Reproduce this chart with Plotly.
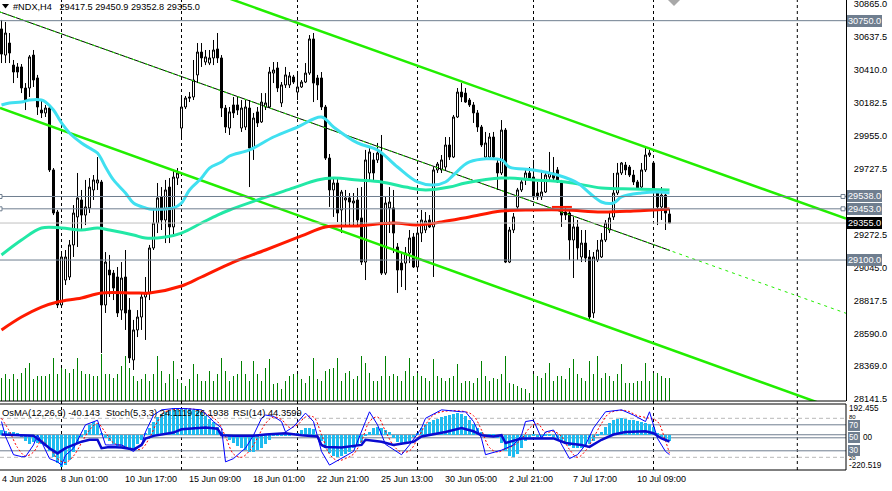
import plotly.graph_objects as go

# ---------------- data ----------------
bar_index = list(range(168))

open_ = [30693,30513,30596,30444,30431,30431,30286,30286,30513,30355,
         30134,30114,30148,29721,29431,28790,28962,28983,29204,29397,
         29514,29410,29459,29583,29631,29638,28790,29031,29010,28983,
         28755,28983,28755,28411,28618,28707,28845,28873,29183,29355,
         29535,29376,29603,29328,29665,30010,30155,30224,30224,30376,
         30534,30465,30458,30493,30555,30493,30148,30010,30169,30169,
         30010,30017,30148,29872,30121,30052,30155,30155,30389,30424,
         30183,30307,30307,30362,30258,30293,30327,30389,30624,30355,
         30355,30155,29803,29583,29631,29445,29514,29528,29493,29514,
         29390,29086,29700,29790,29790,29838,29010,29459,29459,29190,
         29079,29079,29148,29259,29052,29286,29307,29376,29328,29721,
         29721,29741,29893,29810,30086,30258,30251,30203,30169,30114,
         30017,29810,29810,29948,29769,29700,29996,29086,29307,29466,
         29583,29652,29700,29672,29562,29535,29569,29672,29700,29721,
         29638,29431,29424,29238,29328,29121,29217,29121,28735,29100,
         29121,29238,29307,29397,29562,29700,29755,29741,29686,29638,
         29603,29721,29824,29769,29569,29466,29548,29417.5]
high = [30755,30741,30665,30479,30458,30451,30320,30513,30548,30376,
        30203,30169,30169,29734,29445,29148,29169,29238,29479,29700,
        29583,29652,29665,29686,29810,29652,29155,29135,29031,29052,
        29086,29169,28838,28687,28755,28873,28983,29204,29459,29631,
        29603,29652,29665,29721,29734,30217,30231,30258,30479,30596,
        30596,30548,30548,30617,30665,30513,30169,30155,30224,30224,
        30203,30203,30203,30114,30155,30251,30251,30431,30465,30465,
        30327,30431,30396,30376,30396,30341,30458,30651,30665,30376,
        30396,30169,29831,29672,29665,29583,29583,29562,29562,29597,
        29603,29859,29872,29838,29907,29962,29535,29603,29583,29217,
        29148,29190,29307,29286,29307,29445,29431,29410,29741,29776,
        29824,29948,29948,30100,30286,30320,30286,30217,30189,30134,
        30031,29983,29976,29983,29790,30065,30010,29328,29424,29597,
        29665,29721,29741,29790,29638,29721,29707,29845,29810,29741,
        29652,29459,29445,29397,29376,29307,29307,29169,29155,29238,
        29286,29376,29431,29700,29769,29776,29776,29755,29721,29652,
        29769,29872,29859,29776,29583,29603,29569,29450.9]
low = [30458,30458,30458,30320,30355,30251,30134,30224,30293,30100,
       30079,30086,29707,29410,28769,28776,28928,28962,29121,29190,
       29307,29341,29424,29514,29583,28459,28735,28845,28824,28707,
       28687,28618,28390,28342,28569,28618,28549,28824,29169,29286,
       29307,29217,29217,29259,29617,29941,30141,30189,30203,30320,
       30431,30444,30444,30444,30458,30086,29976,29962,30079,30100,
       29983,29996,29603,29790,30017,30045,30134,30148,30320,30258,
       30155,30286,30286,30314,30203,30286,30320,30376,30189,30203,
       30134,29790,29466,29397,29362,29286,29328,29341,29341,29328,
       29066,28962,29652,29638,29769,28997,28997,29286,29148,28873,
       28914,28893,29079,29045,29031,29224,29286,29321,28983,29700,
       29700,29721,29790,29803,30079,30189,30183,30155,30045,29983,
       29879,29790,29790,29790,29583,29686,29079,29079,29286,29445,
       29569,29617,29652,29514,29514,29514,29562,29638,29638,29631,
       29328,29376,29100,28976,29100,29086,29086,28693,28700,29086,
       29114,29224,29286,29376,29548,29686,29686,29672,29617,29583,
       29597,29707,29810,29397,29341,29376,29307,29352.8]
close = [30520,30665,30527,30396,30396,30286,30203,30500,30341,30155,
         30114,30148,29721,29424,28790,29121,29121,29204,29424,29528,
         29410,29466,29603,29652,29652,28790,29086,28997,28907,28735,
         28976,28735,28425,28618,28707,28845,28873,29183,29355,29528,
         29376,29583,29328,29672,29700,30155,30217,30217,30341,30534,
         30493,30500,30493,30548,30493,30148,30017,30121,30114,30134,
         30148,30155,29872,30079,30045,30189,30183,30396,30410,30286,
         30307,30376,30369,30327,30293,30327,30389,30624,30320,30307,
         30155,29803,29583,29631,29424,29569,29528,29500,29507,29376,
         29086,29790,29845,29700,29838,29010,29493,29500,29286,29031,
         29031,29148,29252,29052,29286,29376,29369,29328,29721,29762,
         29790,29893,29810,30086,30258,30224,30189,30169,30114,30017,
         29893,29907,29948,29810,29700,29996,29086,29307,29397,29583,
         29638,29700,29665,29535,29535,29569,29686,29700,29665,29638,
         29410,29410,29238,29328,29183,29217,29114,28707,29121,29169,
         29238,29355,29390,29562,29700,29769,29721,29686,29638,29597,
         29721,29824,29838,29569,29466,29548,29424,29355.0]
volume = [2330,2670,2170,2670,2170,2830,3330,3830,2170,2500,
          2500,2500,2670,4330,2670,3330,3170,2830,3170,4330,
          3000,2670,2670,2500,2500,4670,2670,2670,2330,2670,
          3500,4500,3330,2500,2000,2170,2670,2000,2670,4500,
          3000,1830,2670,4000,2170,1830,1500,2170,3670,2670,
          2000,2000,3000,2000,2670,4330,3000,2000,2500,2670,
          4000,2670,2000,4000,2670,2000,3330,4170,1670,1830,
          1170,2000,2500,2670,2670,2170,1830,2500,4330,2170,
          2000,3000,3170,3330,4330,2000,2830,3000,2170,2500,
          4500,3830,2830,2000,2000,2500,4500,2500,2670,2500,
          2000,3000,4330,2500,2830,2500,2330,2000,4170,2500,
          2330,2000,2330,2500,3670,1830,2000,2000,1830,2330,
          4000,2500,2000,2330,2170,2670,4500,1830,1670,1500,
          1330,1170,830,2670,2500,2330,2830,3830,2000,2500,
          2500,2170,3330,4170,2670,2330,2000,4000,2670,4500,
          2330,2830,2500,2000,2670,3670,1830,1830,1830,2000,
          2000,3830,2000,2830,2830,2500,2330,2330]
osma = [30,25,20,15,8,-15,-40,-55,-45,-50,
        -60,-70,-100,-140,-175,-200,-190,-160,-110,-60,
        -15,30,60,82,70,10,-20,-40,-60,-70,
        -80,-85,-90,-80,-60,-30,10,40,80,110,
        130,145,155,165,165,170,165,160,155,150,
        140,120,100,80,50,20,-10,-30,-50,-70,
        -85,-95,-105,-105,-95,-80,-55,-30,-10,-5,
        -8,-5,-5,5,10,30,40,45,35,0,
        -40,-80,-115,-135,-137,-130,-120,-105,-85,-70,
        -50,-10,20,40,50,45,30,15,-20,-45,
        -60,-60,-40,-15,10,40,65,80,90,100,
        110,120,125,130,134,130,115,95,70,40,
        15,0,-5,-10,-20,-50,-100,-130,-137,-120,
        -80,-40,-20,-10,-15,-15,-10,-10,-15,-25,
        -40,-55,-70,-85,-85,-80,-70,-60,-40,-10,
        20,50,75,90,100,103,100,95,90,85,
        80,75,70,50,10,-15,-30,-40.143]

rsi_bar = [0,4,8,10,12,14,15,16,18,20,22,24,25,27,30,33,35,36,38,40,
           43,45,48,51,54,55,58,63,66,71,75,79,80,81,85,90,91,95,98,103,
           105,108,111,115,118,120,123,125,126,130,133,138,141,145,147,150,
           153,156,161,163,165,167]
rsi_val = [55,54,53,44,34,26,30,34,39,44,47,47,34,36,35,32,39,49,53,55,
           58,63,65,66,64,54,53,53,55,57,54,52,39,36,35,39,47,44,39,44,
           52,55,59,65,60,54,52,54,42,49,49,49,42,39,36,47,
           55,59,60,57,49,44.3599]

stoch_bar = [0,1,3,5,6,8,9,10,12,14,15,16,18,20,21,24,25,26,27,30,
             33,35,36,38,40,43,46,50,53,55,56,58,60,61,63,65,66,68,70,71,
             73,75,76,78,80,82,85,88,91,92,94,95,96,97,100,102,105,106,110,115,
             116,118,120,121,125,128,130,131,133,135,136,138,140,142,144,146,148,151,155,158,
             161,162,164,166,167]
stoch_val = [75,52,24,21,21,39,54,44,18,13,8,23,34,59,70,77,59,39,39,39,
             29,39,59,85,93,95,95,93,75,65,13,18,29,34,54,80,85,83,75,59,
             67,80,88,75,29,8,18,29,75,90,70,55,40,36,24,39,65,80,93,90,
             90,75,49,24,31,39,54,75,77,49,59,62,39,18,24,39,65,90,93,85,
             75,90,49,29,24.1119]

signal_bar = [0,2,4,6,8,10,12,14,16,18,20,22,24,26,28,30,33,35,37,39,
              41,44,48,51,54,56,58,60,62,64,66,68,70,72,74,76,78,80,82,84,
              86,88,90,92,94,96,98,100,102,104,106,108,111,116,118,120,122,124,126,128,
              130,132,134,136,138,140,142,144,146,148,150,152,156,159,162,164,166,167]
signal_val = [80,60,35,22,28,45,35,18,12,22,42,62,72,58,42,38,33,33,50,75,
              90,94,94,88,75,52,25,20,30,50,72,82,78,66,70,82,82,55,25,15,
              18,25,45,75,82,60,38,28,30,48,70,85,91,90,84,62,35,28,33,38,
              48,65,72,58,60,52,32,20,30,50,72,88,92,84,80,75,45,26.1938]

ma_fast_bar = [0,2,5,7,10,11,13,15,17,20,22,24,26,28,31,33,36,37,41,43,
               45,47,50,52,55,57,62,68,74,80,83,89,94,99,104,108,111,113,117,125,
               127,133,139,144,147,150,153,155,160,164,167]
ma_fast_val = [30169,30183,30189,30203,30203,30189,30134,30045,29976,29907,
               29872,29838,29741,29652,29562,29493,29459,29452,29452,29459,
               29493,29583,29665,29734,29776,29817,29859,29948,30017,30086,
               30017,29907,29859,29741,29638,29617,29638,29686,29776,29790,
               29741,29721,29686,29631,29562,29500,29493,29535,29562,29569,29562]
ma_mid_bar = [0,5,10,15,20,24,27,33,36,41,45,50,54,57,64,73,79,83,89,95,
              101,106,112,116,125,133,141,150,158,167]
ma_mid_val = [29135,29238,29321,29321,29307,29321,29307,29273,29252,29259,
              29286,29355,29410,29445,29514,29597,29652,29665,29652,29638,
              29603,29583,29603,29631,29665,29652,29638,29597,29590,29583]
ma_slow_bar = [0,5,10,14,20,25,33,37,45,50,58,66,75,81,89,98,104,110,117,125,
               133,141,150,158,167]
ma_slow_val = [28618,28707,28776,28811,28838,28873,28873,28873,28921,28983,
               29086,29169,29266,29328,29335,29355,29341,29362,29397,29438,
               29445,29445,29431,29438,29452]

# drawn objects (bar index, price)
channel_upper_bar, channel_upper_price = [49.625, 211.125], [30975, 29385]
channel_lower_bar, channel_lower_price = [-0.375, 211.125], [30148, 28048]
trend_mid_bar, trend_mid_price = [-0.375, 167.1], [30810, 29166]
trend_mid_ext_bar, trend_mid_ext_price = [-0.375, 211.125], [30810, 28733]
red_segment_bar, red_segment_price = [137.6, 142.6], [29466, 29466]

h_levels = [30750.0, 29538.0, 29453.0, 29100.0]
bid_price = 29355.0
separator_bars = [15, 45, 74, 104, 133, 163, 198.95]

date_bars = [15, 31, 47, 63, 79, 95, 111, 127, 143, 159]
date_text = ["8 Jun 01:00", "10 Jun 17:00", "15 Jun 09:00", "18 Jun 01:00",
             "22 Jun 21:00", "25 Jun 13:00", "30 Jun 05:00", "2 Jul 21:00",
             "7 Jul 17:00", "10 Jul 09:00"]
price_ticks = [30865.0, 30637.5, 30410.0, 30182.5, 29955.0, 29727.5,
               29272.5, 29045.0, 28817.5, 28590.0, 28369.0, 28141.5]

osma_range = [-220.519, 192.455]
stoch_levels_dash = [80, 20]
stoch_levels_solid = [70, 50, 30]

# ---------------- layout constants ----------------
FONT = "Liberation Sans, Arial, sans-serif"
SLATE = "#6f7e8f"
PW, PH = 846.0, 470.0      # plot area in px
MAIN_BOTTOM, IND_TOP = 401.0, 404.0


def pxx(p):
    return p / PW


def pxy(p):
    return 1 - p / PH


fig = go.Figure()

# volumes (base axis of main panel)
fig.add_trace(go.Bar(x=bar_index, y=volume, xaxis="x", yaxis="y",
                     marker=dict(color="#008000", line=dict(width=0)),
                     width=0.25, hoverinfo="skip"))

# channel / trend lines
fig.add_trace(go.Scatter(x=channel_upper_bar, y=channel_upper_price, yaxis="y2", mode="lines",
                         line=dict(color="#22ee00", width=2.5), hoverinfo="skip"))
fig.add_trace(go.Scatter(x=channel_lower_bar, y=channel_lower_price, yaxis="y2", mode="lines",
                         line=dict(color="#22ee00", width=2.5), hoverinfo="skip"))
fig.add_trace(go.Scatter(x=trend_mid_bar, y=trend_mid_price, yaxis="y2", mode="lines",
                         line=dict(color="black", width=1), hoverinfo="skip"))
fig.add_trace(go.Scatter(x=trend_mid_ext_bar, y=trend_mid_ext_price, yaxis="y2", mode="lines",
                         line=dict(color="#22ee00", width=1, dash="3px,4px"), hoverinfo="skip"))

# candles
fig.add_trace(go.Candlestick(
    x=bar_index, open=open_, high=high, low=low, close=close, yaxis="y2",
    increasing=dict(line=dict(color="black", width=1), fillcolor="white"),
    decreasing=dict(line=dict(color="black", width=1), fillcolor="black"),
    whiskerwidth=0, hoverinfo="skip"))

# moving averages
fig.add_trace(go.Scatter(x=ma_slow_bar, y=ma_slow_val, yaxis="y2", mode="lines",
                         line=dict(color="#ff1a00", width=3, shape="spline"), hoverinfo="skip"))
fig.add_trace(go.Scatter(x=ma_mid_bar, y=ma_mid_val, yaxis="y2", mode="lines",
                         line=dict(color="#22e8a6", width=3, shape="spline"), hoverinfo="skip"))
fig.add_trace(go.Scatter(x=ma_fast_bar, y=ma_fast_val, yaxis="y2", mode="lines",
                         line=dict(color="#40e0f0", width=3, shape="spline"), hoverinfo="skip"))
fig.add_trace(go.Scatter(x=red_segment_bar, y=red_segment_price, yaxis="y2", mode="lines",
                         line=dict(color="#ff1a00", width=2), hoverinfo="skip"))

# indicator window
fig.add_trace(go.Bar(x=bar_index, y=osma, xaxis="x", yaxis="y3",
                     marker=dict(color="#1ebcf0", line=dict(width=0)),
                     width=0.6, hoverinfo="skip"))
fig.add_trace(go.Scatter(x=signal_bar, y=signal_val, yaxis="y4", mode="lines",
                         line=dict(color="#ff0000", width=1, dash="2px,2px", shape="spline"),
                         hoverinfo="skip"))
fig.add_trace(go.Scatter(x=stoch_bar, y=stoch_val, yaxis="y4", mode="lines",
                         line=dict(color="#0000ff", width=1), hoverinfo="skip"))
fig.add_trace(go.Scatter(x=rsi_bar, y=rsi_val, yaxis="y4", mode="lines",
                         line=dict(color="#0a0ad0", width=2.5), hoverinfo="skip"))

# ---------------- shapes ----------------
shapes = []
for k in separator_bars:
    shapes.append(dict(type="line", xref="x", yref="paper", x0=k, x1=k, y0=0, y1=1,
                       line=dict(color="black", width=1, dash="3px,3px"), layer="below"))
for v in h_levels:
    shapes.append(dict(type="line", xref="paper", x0=0, x1=1, yref="y2", y0=v, y1=v,
                       line=dict(color=SLATE, width=1)))
shapes.append(dict(type="line", xref="paper", x0=0, x1=1, yref="y2", y0=bid_price, y1=bid_price,
                   line=dict(color="#c0c0c0", width=1)))
for v in (29538.0, 29453.0):
    for xa, a, b in ((0, -2, 2), (1, -5, -1)):
        shapes.append(dict(type="rect", xref="paper", xsizemode="pixel", xanchor=xa, x0=a, x1=b,
                           yref="y2", ysizemode="pixel", yanchor=v, y0=-2, y1=2,
                           line=dict(color=SLATE, width=1), fillcolor="white"))
for v in stoch_levels_dash:
    shapes.append(dict(type="line", xref="paper", x0=0, x1=1, yref="y4", y0=v, y1=v,
                       line=dict(color="#b8b8b8", width=1, dash="4px,3px"), layer="below"))
for v in stoch_levels_solid:
    shapes.append(dict(type="line", xref="paper", x0=0, x1=1, yref="y4", y0=v, y1=v,
                       line=dict(color=SLATE, width=1), layer="below"))
shapes.append(dict(type="line", xref="paper", x0=0, x1=1, yref="y3", y0=0, y1=0,
                   line=dict(color=SLATE, width=1), layer="below"))
# panel frames
for y in (MAIN_BOTTOM, IND_TOP, PH):
    shapes.append(dict(type="line", xref="paper", yref="paper", x0=0, x1=1,
                       y0=pxy(y), y1=pxy(y), line=dict(color="black", width=1)))
shapes.append(dict(type="line", xref="paper", yref="paper", x0=1, x1=1,
                   y0=pxy(PH), y1=pxy(IND_TOP), line=dict(color="black", width=1)))
# small markers at top
shapes.append(dict(type="path", xref="paper", yref="paper",
                   path=f"M {pxx(2)},{pxy(4)} L {pxx(9)},{pxy(4)} L {pxx(5.5)},{pxy(8.5)} Z",
                   fillcolor="black", line=dict(width=0)))
shapes.append(dict(type="path", xref="paper", yref="paper",
                   path=f"M {pxx(668)},{pxy(0)} L {pxx(680)},{pxy(0)} L {pxx(674)},{pxy(6)} Z",
                   fillcolor="#a8a8a8", line=dict(width=0)))

# ---------------- annotations ----------------
ann = []
f_axis = dict(family=FONT, size=9.2, color="black")
for v, txt in zip(h_levels, ["30750.0", "29538.0", "29453.0", "29100.0"]):
    ann.append(dict(xref="paper", x=1, xanchor="left", xshift=1, yref="y2", y=v, yanchor="middle",
                    text=txt, showarrow=False, bgcolor=SLATE, borderpad=0, borderwidth=1,
                    bordercolor=SLATE, font=dict(family=FONT, size=9.2, color="white")))
ann.append(dict(xref="paper", x=1, xanchor="left", xshift=1, yref="y2", y=bid_price, yanchor="middle",
                text="29355.0", showarrow=False, bgcolor="black", borderpad=0, borderwidth=1,
                bordercolor="black", font=dict(family=FONT, size=9.2, color="white")))


# indicator window scale labels
def side_label(ypx, txt, box=False, size=9.2, xshift=2):
    d = dict(xref="paper", x=1, xanchor="left", xshift=xshift, yref="paper", y=pxy(ypx),
             yanchor="middle", text=txt, showarrow=False, borderpad=0,
             font=dict(family=FONT, size=size, color="white" if box else "black"))
    if box:
        d.update(bgcolor=SLATE, borderwidth=1, bordercolor=SLATE)
    return d


ann.append(side_label(408.6, "192.455", size=8.2))
ann.append(side_label(417.0, "80", size=6))
ann.append(side_label(425.0, "70", True, size=8.2))
ann.append(side_label(437.3, "50", True, size=8.2))
ann.append(side_label(437.3, "00", size=8.2, xshift=16))
ann.append(side_label(450.4, "30", True, size=8.2))
ann.append(side_label(458.2, "20", size=6))
ann.append(side_label(465.0, "-220.519", size=8.2))

# header & indicator captions
ann.append(dict(xref="paper", yref="paper", x=pxx(11), y=pxy(7), xanchor="left", yanchor="middle",
                text="#NDX,H4&nbsp;&nbsp; 29417.5 29450.9 29352.8 29355.0", showarrow=False,
                font=dict(family=FONT, size=9.2, color="black")))
for xp, txt in ((0, "OsMA(12,26,9) -40.143"), (104, "Stoch(5,3,3) 24.1119 26.1938"),
                (231, "RSI(14) 44.3599")):
    ann.append(dict(xref="paper", yref="paper", x=pxx(xp), y=pxy(412.3), xanchor="left",
                    yanchor="middle", text=txt, showarrow=False,
                    font=dict(family=FONT, size=9.4, color="black")))

# time labels
ann.append(dict(xref="paper", yref="paper", x=pxx(0), y=pxy(479.3), xanchor="left",
                yanchor="middle", text="4 Jun 2026", showarrow=False,
                font=dict(family=FONT, size=9, color="black")))
for k, txt in zip(date_bars, date_text):
    ann.append(dict(xref="x", yref="paper", x=k, xshift=-3, y=pxy(479.3), xanchor="left",
                    yanchor="middle", text=txt, showarrow=False,
                    font=dict(family=FONT, size=9, color="black")))

fig.update_layout(
    width=892, height=491,
    margin=dict(l=0, r=46, t=0, b=21, pad=0),
    paper_bgcolor="white", plot_bgcolor="white",
    showlegend=False, hovermode=False,
    boxgap=0.5, boxgroupgap=0, bargap=0,
    font=dict(family=FONT, size=9.2, color="black"),
    xaxis=dict(domain=[0, 1], range=[-0.375, 211.125], anchor="y3",
               showgrid=False, zeroline=False, showticklabels=False, ticks="",
               showline=False, rangeslider=dict(visible=False), fixedrange=True),
    yaxis=dict(domain=[pxy(MAIN_BOTTOM), 1], range=[0, 40100], visible=False, fixedrange=True),
    yaxis2=dict(overlaying="y", side="right", anchor="x", range=[28128.1, 30892.6],
                tickmode="array", tickvals=price_ticks,
                ticktext=[f"{v:.1f}" for v in price_ticks],
                showgrid=False, zeroline=False, showline=True, linecolor="black", linewidth=1,
                ticks="", ticklabelstandoff=5, ticklabeloverflow="allow",
                tickfont=f_axis, fixedrange=True),
    yaxis3=dict(domain=[0, pxy(IND_TOP)], range=osma_range, visible=False, fixedrange=True),
    yaxis4=dict(overlaying="y3", range=[0.46, 102.0], visible=False, fixedrange=True),
    shapes=shapes, annotations=ann,
)

fig.write_html("out.html")
